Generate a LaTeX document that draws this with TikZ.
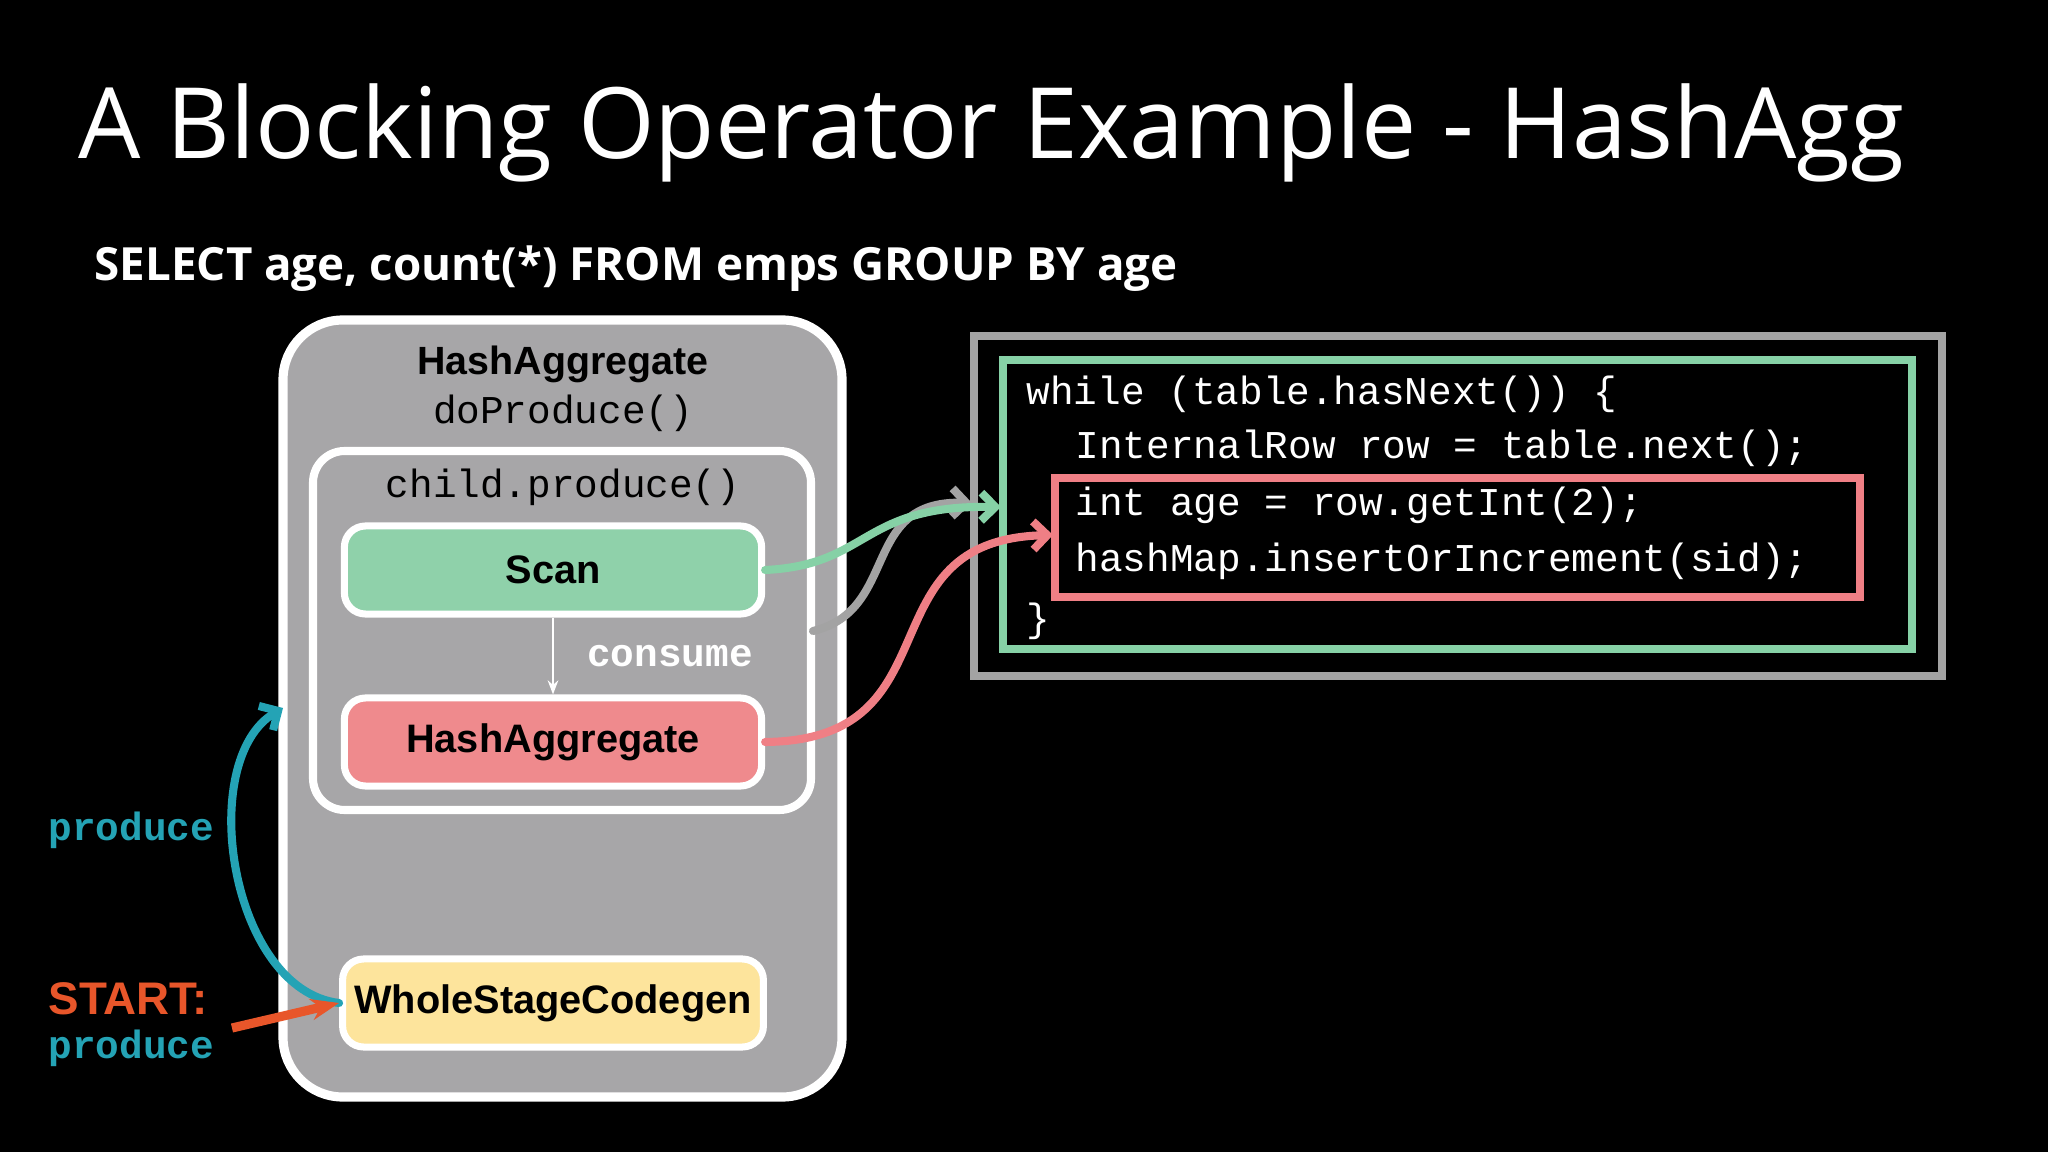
\documentclass[tikz,border=0pt]{standalone}
\usepackage{fontspec}
\setmainfont{Open Sans}
\newfontfamily\boxfont{Liberation Sans}
\newfontfamily\codefont{Liberation Mono}
\usetikzlibrary{arrows.meta}
\definecolor{panelgray}{HTML}{A7A6A8}
\definecolor{scangreen}{HTML}{8FD1AA}
\definecolor{aggred}{HTML}{EF8A8D}
\definecolor{wscyellow}{HTML}{FDE49C}
\definecolor{codegray}{HTML}{A3A3A3}
\definecolor{loopgreen}{HTML}{86D1A6}
\definecolor{bodyred}{HTML}{EF7F85}
\definecolor{produceteal}{HTML}{24A3B5}
\definecolor{startorange}{HTML}{E8562A}
\begin{document}
\begin{tikzpicture}[x=0.01cm, y=-0.01cm,
        link/.style={line width=2.3pt, line cap=round},
    ]
    \fill[black] (0,0) rectangle (2048,1152);
    \useasboundingbox (0,0) rectangle (2048,1152);
    % operator boxes
    \tikzstyle{opbox}=[draw=white, line width=2pt, rounded corners=6pt, minimum width=4.17cm, minimum height=0.88cm, font=\boxfont\bfseries\fontsize{11.3}{13}\selectfont]
    % code text
    \tikzstyle{code}=[anchor=base west, inner sep=0, text=white, font=\codefont\fontsize{11.2}{13}\selectfont]
    \node[anchor=base west, inner sep=0, text=white, font=\fontsize{28}{32}\selectfont] (title) at (78,159) {A Blocking Operator Example - HashAgg};
    \node[anchor=base west, inner sep=0, text=white, font=\bfseries\fontsize{13}{16}\selectfont] (query) at (94,281) {SELECT age, count(*) FROM emps GROUP BY age};
    % plan
    \draw[white, line width=2.6pt, fill=panelgray, rounded corners=17pt] (283,320) rectangle (842,1097);
    \node[inner sep=0, font=\boxfont\bfseries\fontsize{11.2}{13}\selectfont] (haname) at (563,364) {HashAggregate};
    \node[inner sep=0, font=\codefont\fontsize{11.2}{13}\selectfont] (doprod) at (563,413) {doProduce()};
    \draw[white, line width=2.3pt, rounded corners=9pt] (313,451) rectangle (811,810);
    \node[inner sep=0, font=\codefont\fontsize{11.2}{13}\selectfont] (childprod) at (563,487) {child.produce()};
    \node[opbox, fill=scangreen] (scan) at (553,570) {Scan};
    \node[opbox, fill=aggred] (agg) at (553,742) {HashAggregate};
    \node[opbox, fill=wscyellow] (wsc) at (553,1003) {WholeStageCodegen};
    \draw[white, line width=0.8pt, -{Stealth[length=4pt]}] (scan.south) -- (agg.north)
        node[midway, right=6pt, text=white, font=\codefont\bfseries\fontsize{11.2}{13}\selectfont] {consume};
    % code
    \draw[codegray, line width=2.5pt] (974,336) rectangle (1942,676);
    \draw[loopgreen, line width=2.5pt] (1003,360) rectangle (1912,649);
    \draw[bodyred, line width=2.5pt] (1055,478) rectangle (1860,597);
    \node[code] (l1) at (1026,405) {while (table.hasNext()) \{};
    \node[code] (l2) at (1075,459) {InternalRow row = table.next();};
    \node[code] (l3) at (1075,515) {int age = row.getInt(2);};
    \node[code] (l4) at (1075,572) {hashMap.insertOrIncrement(sid);};
    \node[code] (l5) at (1026,631) {\}};
    \coordinate (loopin) at (1001,507);
    \coordinate (grayin) at (972,503);
    \coordinate (grayout) at (813,631);
    \coordinate (bodyin) at (1053,535);
    % connectors
    \draw[link, codegray, -{Straight Barb[length=4pt]}] (grayout) .. controls (900,610) and (860,500) .. (grayin);
    \draw[link, loopgreen, -{Straight Barb[length=4pt]}] (scan.east) .. controls (870,565) and (860,505) .. (loopin);
    \draw[link, bodyred, -{Straight Barb[length=4pt]}] (agg.east) .. controls (960,740) and (860,540) .. (bodyin);
    % produce labels
    \node[anchor=base west, inner sep=0, text=produceteal, font=\codefont\bfseries\fontsize{11.2}{13}\selectfont] (prodlbl) at (48,840) {produce};
    \node[anchor=base west, inner sep=0, text=startorange, font=\boxfont\bfseries\fontsize{13}{15}\selectfont] (startlbl) at (48,1014) {START:};
    \node[anchor=base west, inner sep=0, text=produceteal, font=\codefont\bfseries\fontsize{11.2}{13}\selectfont] (prodlbl2) at (48,1058) {produce};
    \coordinate (prodtop) at (283,708);
    \coordinate (startfrom) at (232,1028);
    \draw[link, produceteal, -{Straight Barb[length=4pt]}] (wsc.west) .. controls (230,990) and (195,760) .. (prodtop);
    \draw[line width=2.6pt, startorange, -{Stealth[length=8pt]}] (startfrom) -- (wsc.west);
\end{tikzpicture}
\end{document}
